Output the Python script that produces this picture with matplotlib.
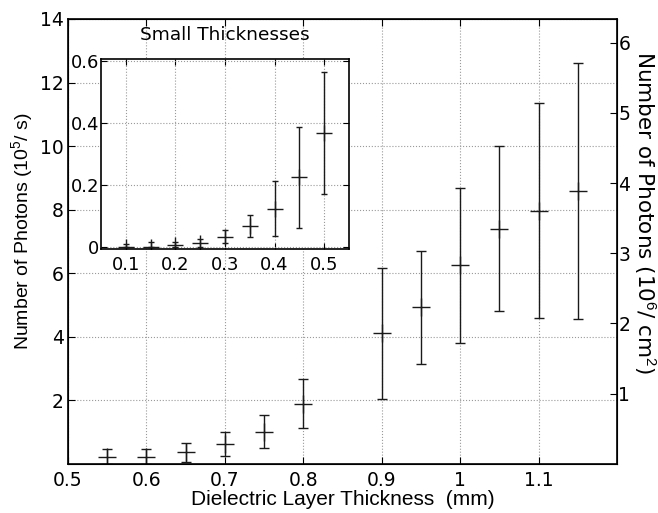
import matplotlib.pyplot as plt

plt.rcParams['font.family'] = ['Liberation Sans', 'DejaVu Sans']
plt.rcParams['mathtext.fontset'] = 'custom'
plt.rcParams['mathtext.rm'] = 'Liberation Sans'

# main data: thickness (mm), photons (1e5/s), error bounds
thick = [0.55, 0.60, 0.65, 0.70, 0.75, 0.80, 0.90, 0.95, 1.00, 1.05, 1.10, 1.15]
photons = [0.22, 0.22, 0.36, 0.62, 1.01, 1.89, 4.11, 4.93, 6.24, 7.39, 7.97, 8.57]
upper = [0.45, 0.47, 0.65, 0.99, 1.54, 2.68, 6.16, 6.71, 8.69, 10.0, 11.34, 12.62]
lower = [0.0, 0.0, 0.06, 0.24, 0.48, 1.11, 2.04, 3.13, 3.79, 4.81, 4.60, 4.55]

# inset data (small thicknesses)
thick_s = [0.10, 0.15, 0.20, 0.25, 0.30, 0.35, 0.40, 0.45, 0.50]
photons_s = [0.0, 0.003, 0.008, 0.014, 0.034, 0.068, 0.125, 0.226, 0.366]
upper_s = [0.010, 0.018, 0.017, 0.026, 0.056, 0.103, 0.213, 0.388, 0.563]
lower_s = [0.0, 0.0, 0.0, 0.002, 0.015, 0.034, 0.038, 0.062, 0.170]

x_ticks = [0.5, 0.6, 0.7, 0.8, 0.9, 1, 1.1]
x_labels = ['0.5', '0.6', '0.7', '0.8', '0.9', '1', '1.1']
y_ticks = [2, 4, 6, 8, 10, 12, 14]
y2_ticks = [1, 2, 3, 4, 5, 6]
xs_ticks = [0.1, 0.2, 0.3, 0.4, 0.5]
ys_ticks = [0, 0.2, 0.4, 0.6]
ys_labels = ['0', '0.2', '0.4', '0.6']

tick_font = ['DejaVu Sans']
line_col = '#1a1a1a'

fig = plt.figure(figsize=(6.58, 5.13), dpi=100)
ax = fig.add_axes([0.1033, 0.0961, 0.8344, 0.8669])

yerr = [[p - l for p, l in zip(photons, lower)], [u - p for p, u in zip(photons, upper)]]
ax.errorbar(thick, photons, yerr=yerr, fmt='+', color=line_col, ms=13, mew=1.0,
            elinewidth=1.0, capsize=3.6, capthick=1.0)
ax.set_xlim(0.5, 1.2)
ax.set_ylim(0, 14)
ax.set_xticks(x_ticks)
ax.set_xticklabels(x_labels, family=tick_font)
ax.set_yticks(y_ticks)
ax.set_yticklabels([str(v) for v in y_ticks], family=tick_font)
ax.tick_params(direction='in', labelsize=13.5, length=5, top=True, right=True)
ax.tick_params(axis='x', pad=5)
ax.tick_params(axis='y', pad=3)
ax.grid(True, linestyle=':', color='#9a9a9a', linewidth=0.8)
ax.set_xlabel('Dielectric Layer Thickness  (mm)', fontsize=15, va='center')
ax.xaxis.set_label_coords(0.5, -0.0816)
ax.set_ylabel('Number of Photons (10$^5$/ s)', fontsize=14, ha='center', va='center')
ax.yaxis.set_label_coords(-0.082, 0.523)
for s in ax.spines.values():
    s.set_linewidth(1.2)

ax2 = ax.twinx()
ax2.set_ylim(0, 6.34)
ax2.set_yticks(y2_ticks)
ax2.set_yticklabels([str(v) for v in y2_ticks], family=tick_font)
ax2.tick_params(direction='in', labelsize=13.5, length=5, pad=1)
ax2.set_ylabel('Number of Photons (10$^6$/ cm$^2$)', fontsize=15.5, family=tick_font,
               rotation=270, ha='center', va='center')
ax2.yaxis.set_label_coords(1.050, 0.564)

ax.text(0.286, 0.964, 'Small Thicknesses', transform=ax.transAxes, fontsize=13.3,
        family=tick_font, ha='center', va='center', zorder=5)

axi = fig.add_axes([0.1535, 0.5146, 0.3769, 0.3704])
yerr_s = [[p - l for p, l in zip(photons_s, lower_s)], [u - p for p, u in zip(photons_s, upper_s)]]
axi.errorbar(thick_s, photons_s, yerr=yerr_s, fmt='+', color=line_col, ms=11.5, mew=1.0,
             elinewidth=1.0, capsize=2.2, capthick=1.0)
axi.set_xlim(0.05, 0.55)
axi.set_ylim(-0.005, 0.605)
axi.set_xticks(xs_ticks)
axi.set_xticklabels([str(v) for v in xs_ticks], family=tick_font)
axi.set_yticks(ys_ticks)
axi.set_yticklabels(ys_labels, family=tick_font)
axi.tick_params(direction='in', labelsize=13, length=4, top=True, right=True)
axi.tick_params(axis='x', pad=5)
axi.tick_params(axis='y', pad=1)
axi.grid(True, linestyle=':', color='#9a9a9a', linewidth=0.8)
for s in axi.spines.values():
    s.set_linewidth(1.2)

fig.savefig('out.png', dpi=100)
